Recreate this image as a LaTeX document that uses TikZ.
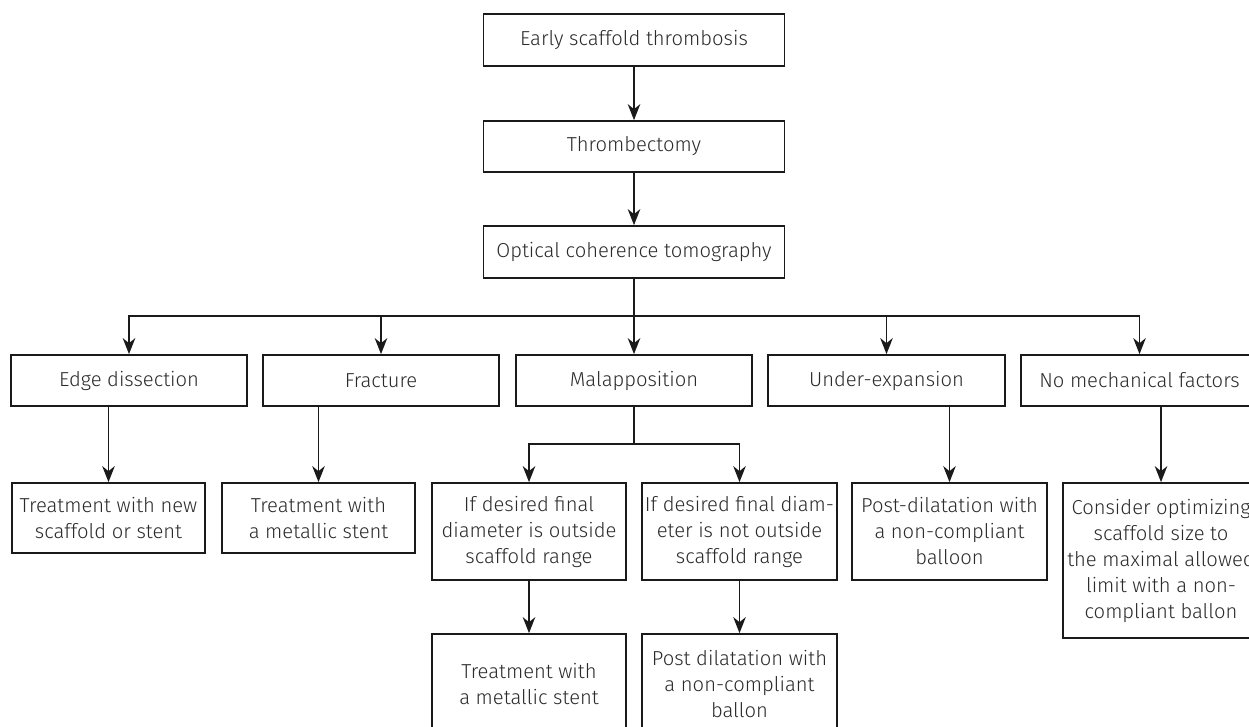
\documentclass[tikz,border=0pt]{standalone}
\usepackage{fontspec}
\setmainfont{Fira Sans Light}
\usetikzlibrary{arrows.meta}
\definecolor{txt}{HTML}{2B2B2B}
\definecolor{ln}{HTML}{1A1A1A}
\tikzset{
  box/.style={draw=ln, line width=1.7pt, fill=white, inner sep=0pt, align=center,
    text=txt, font=\fontsize{20.2}{26}\selectfont, anchor=center},
  arr/.style={draw=ln, line width=1.7pt, -{Stealth[length=16pt,width=12.5pt,inset=5pt]}},
  lnk/.style={draw=ln, line width=1.7pt},
}
\begin{document}
\begin{tikzpicture}[x=1pt,y=-1pt]
\useasboundingbox (0,0) rectangle (1249,727);
\clip (0,0) rectangle (1249,727);
% row 0-2
\node[box, minimum width=301pt, minimum height=52pt] (top) at (634,40) {Early scaffold thrombosis};
\node[box, minimum width=301pt, minimum height=51pt] (thr) at (634,146.5) {Thrombectomy};
\node[box, minimum width=301pt, minimum height=52pt] (oct) at (634,252) {Optical coherence tomography};
% row 3
\node[box, minimum width=236pt, minimum height=51pt] (ed) at (129,380.5) {Edge dissection};
\node[box, minimum width=236pt, minimum height=51pt] (fr) at (381,380.5) {Fracture};
\node[box, minimum width=236pt, minimum height=51pt] (mal) at (634,380.5) {Malapposition};
\node[box, minimum width=237pt, minimum height=51pt] (ue) at (886.5,380.5) {Under-expansion};
\node[box, minimum width=237pt, minimum height=51pt] (nm) at (1139.5,380.5) {No mechanical factors};
% row 4
\node[box, minimum width=193pt, minimum height=70pt] (t1) at (108.5,518) {Treatment with new\\scaffold or stent};
\node[box, minimum width=193pt, minimum height=70pt] (t2) at (318.5,518) {Treatment with\\a metallic stent};
\node[box, minimum width=194pt, minimum height=97pt] (md1) at (529,531.5) {If desired final\\diameter is outside\\scaffold range};
\node[box, minimum width=195pt, minimum height=97pt] (md2) at (739.5,531.5) {If desired final diam-\\eter is not outside\\scaffold range};
\node[box, minimum width=195pt, minimum height=97pt] (pd) at (949.5,531.5) {Post-dilatation with\\a non-compliant\\balloon};
\node[box, minimum width=196pt, minimum height=155pt] (co) at (1161,560.5) {Consider optimizing\\scaffold size to\\the maximal allowed\\limit with a non-\\compliant ballon};
% row 5
\node[box, minimum width=194pt, minimum height=100pt] (b1) at (529,684) {Treatment with\\a metallic stent};
\node[box, minimum width=195pt, minimum height=100pt] (b2) at (739.5,684) {Post dilatation with\\a non-compliant\\ballon};
% connectors
\coordinate (bus) at (634,316);
\coordinate (mbus) at (634,444);
\draw[arr] (top) -- (thr);
\draw[arr] (thr) -- (oct);
\draw[lnk] (oct.south) -- (bus);
\draw[arr] (bus) -| (ed.north);
\draw[arr] (bus) -| (fr.north);
\draw[arr] (bus) -- (mal.north);
\draw[arr] (bus) -| (ue.north);
\draw[arr] (bus) -| (nm.north);
\draw[arr] (t1.north |- ed.south) -- (t1.north);
\draw[arr] (t2.north |- fr.south) -- (t2.north);
\draw[lnk] (mal.south) -- (mbus);
\draw[arr] (mbus) -| (md1.north);
\draw[arr] (mbus) -| (md2.north);
\draw[arr] (pd.north |- ue.south) -- (pd.north);
\draw[arr] (co.north |- nm.south) -- (co.north);
\draw[arr] (md1.south) -- (b1.north);
\draw[arr] (md2.south) -- (b2.north);
\end{tikzpicture}
\end{document}
